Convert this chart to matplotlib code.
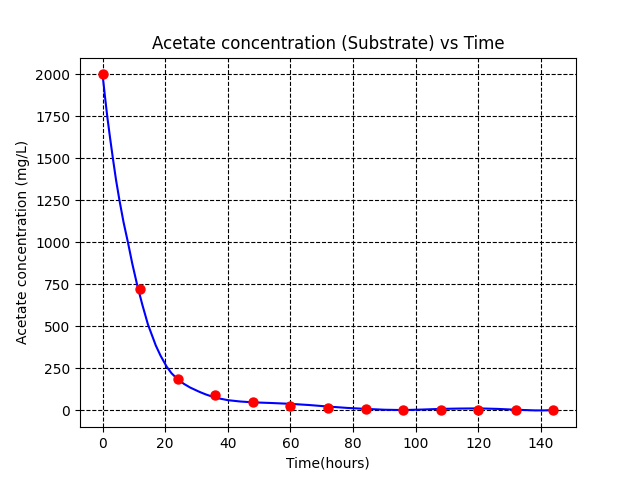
import matplotlib
matplotlib.use("Agg")
import matplotlib.pyplot as plt

# Measured data (red points)
time_points = [0, 12, 24, 36, 48, 60, 72, 84, 96, 108, 120, 132, 144]
acetate_points = [2000, 721, 183, 90, 46, 24, 10, 4, 3, 3, 3, 2, 2]

# Model curve (blue line)
curve_t = [0, 0.75, 1.5, 2.4, 3.3, 4.3, 5.4, 6.7, 8.1, 9.5, 11.0, 12.7,
           14.5, 15.8, 17.0, 18.5, 20.5, 22.0, 24.0, 26.0, 28.0, 31.0, 33.0,
           36.0, 40.0, 44.0, 48.0, 54.0, 60.0, 66.0, 72.0, 78.0, 84.0, 90.0,
           96.0, 102.0, 108.0, 114.0, 120.0, 126.0, 132.0, 138.0, 141.0, 144.0]
curve_y = [2000, 1872, 1750, 1622, 1500, 1372, 1250, 1120, 1000, 872, 750,
           628, 510, 445, 385, 325, 258, 220, 183, 156, 134, 108, 93,
           74, 59, 51, 46, 42, 37, 30, 21, 13, 7, 2,
           0, 3, 7, 9, 10, 7, 2, -2, -2, 0]

fig, ax = plt.subplots(figsize=(6.4, 4.8), dpi=100)
ax.plot(curve_t, curve_y, color='blue', linewidth=1.5, zorder=2)
ax.scatter(time_points, acetate_points, color='red', s=42, zorder=3)
ax.set_title("Acetate concentration (Substrate) vs Time")
ax.set_xlabel("Time(hours)")
ax.set_ylabel("Acetate concentration (mg/L)")
ax.grid(True, color='black', linestyle='--', linewidth=0.8)
ax.set_axisbelow(True)
fig.savefig("out.png", dpi=100)
